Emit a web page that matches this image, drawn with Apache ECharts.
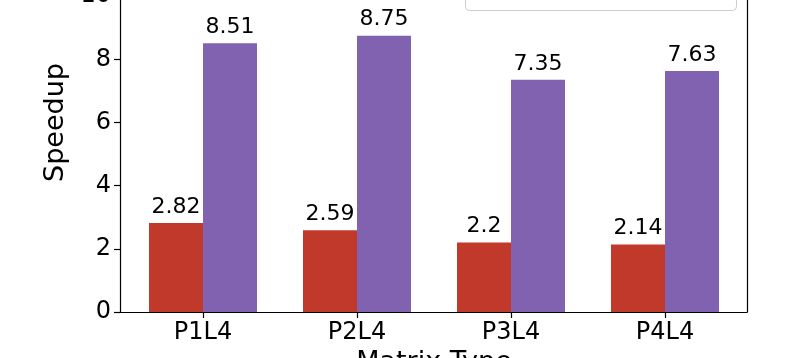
<!DOCTYPE html>
<html>
<head>
<meta charset="utf-8">
<script src="https://cdn.jsdelivr.net/npm/echarts@6/dist/echarts.min.js"></script>
<style>
html,body{margin:0;padding:0;background:#fff;overflow:hidden;}
#c{width:806px;height:425px;margin-top:-67px;}
</style>
</head>
<body>
<div id="c"></div>
<script>
const categories = ['P1L4', 'P2L4', 'P3L4', 'P4L4'];
const seriesNames = ['Baseline', 'Optimized'];
const redValues = [2.82, 2.59, 2.2, 2.14];
const purpleValues = [8.51, 8.75, 7.35, 7.63];
const yTicks = { min: 0, max: 12, interval: 2 };

const FONT = 'DejaVu Sans';
const chart = echarts.init(document.getElementById('c'), null, { renderer: 'canvas' });

const gridTop = 0, gridBottom = 46;

chart.setOption({
  animation: false,
  backgroundColor: '#ffffff',
  textStyle: { fontFamily: FONT },
  grid: [
    { left: 120, right: 59, top: gridTop, bottom: gridBottom, containLabel: false, outerBoundsMode: 'none' },
    { left: 126, right: 64, top: gridTop, bottom: gridBottom, containLabel: false, outerBoundsMode: 'none' }
  ],
  graphic: [
    {
      type: 'rect', z: 3, silent: true,
      shape: { x: 465.5, y: 7.5, width: 271, height: 70, r: 4 },
      style: { fill: 'rgba(255,255,255,0.8)', stroke: '#cccccc', lineWidth: 1 }
    }
  ],
  legend: {
    z: 4,
    orient: 'vertical',
    left: 465,
    bottom: 348,
    padding: [9, 9],
    itemGap: 8,
    itemWidth: 44,
    itemHeight: 15,
    textStyle: { fontFamily: FONT, fontSize: 22, color: '#000' },
    data: seriesNames
  },
  xAxis: [
    {
      gridIndex: 0, type: 'value', min: 0, max: 1,
      axisLine: { show: true, lineStyle: { color: '#000', width: 1.2 } },
      axisTick: { show: false }, axisLabel: { show: false }, splitLine: { show: false }
    },
    {
      gridIndex: 1, type: 'category', data: categories,
      axisLine: { show: false },
      axisTick: { show: true, alignWithLabel: true, length: 6, lineStyle: { color: '#000', width: 1.2 } },
      axisLabel: { fontFamily: FONT, fontSize: 24, color: '#000', margin: 9 },
      splitLine: { show: false },
      name: 'Matrix Type', nameLocation: 'middle', nameGap: 37,
      nameTextStyle: { fontFamily: FONT, fontSize: 27, color: '#000', verticalAlign: 'top' }
    }
  ],
  yAxis: [
    {
      gridIndex: 0, type: 'value', min: yTicks.min, max: yTicks.max, interval: yTicks.interval,
      axisLine: { show: true, lineStyle: { color: '#000', width: 1.2 } },
      axisTick: { show: true, length: 6, lineStyle: { color: '#000', width: 1.2 } },
      axisLabel: { fontFamily: FONT, fontSize: 24, color: '#000', margin: 9 },
      splitLine: { show: false },
      name: 'Speedup', nameLocation: 'middle', nameGap: 43,
      nameTextStyle: { fontFamily: FONT, fontSize: 27, color: '#000' }
    },
    {
      gridIndex: 0, type: 'value', position: 'right', min: yTicks.min, max: yTicks.max,
      axisLine: { show: true, lineStyle: { color: '#000', width: 1.2 } },
      axisTick: { show: false }, axisLabel: { show: false }, splitLine: { show: false }
    },
    {
      gridIndex: 1, type: 'value', min: yTicks.min, max: yTicks.max,
      axisLine: { show: false }, axisTick: { show: false }, axisLabel: { show: false }, splitLine: { show: false }
    }
  ],
  series: [
    {
      name: seriesNames[0], type: 'bar', xAxisIndex: 1, yAxisIndex: 2,
      data: redValues, barWidth: 54, barGap: '0%',
      itemStyle: { color: '#c0392b' },
      label: { show: true, position: 'top', distance: 5, fontFamily: FONT, fontSize: 22, color: '#000' }
    },
    {
      name: seriesNames[1], type: 'bar', xAxisIndex: 1, yAxisIndex: 2,
      data: purpleValues, barWidth: 54, barGap: '0%',
      itemStyle: { color: '#8162b0' },
      label: { show: true, position: 'top', distance: 5, fontFamily: FONT, fontSize: 22, color: '#000' }
    }
  ]
});
</script>
</body>
</html>
